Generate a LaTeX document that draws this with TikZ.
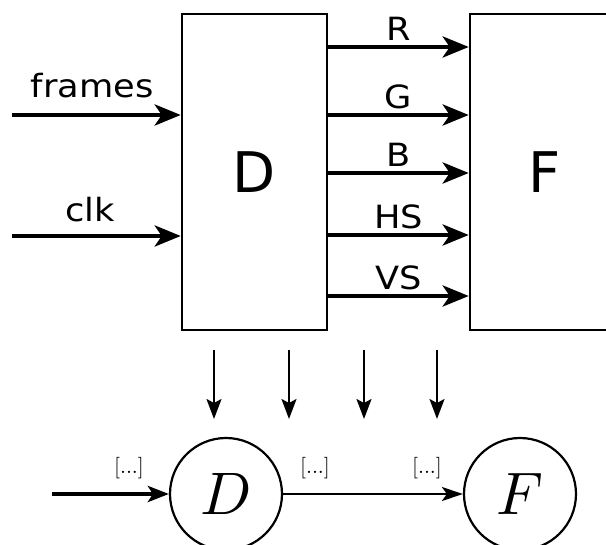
\documentclass[tikz,border=0pt]{standalone}
\usepackage{fontspec}
\newfontfamily\lblfont[FakeStretch=1.1]{DejaVu Sans}
\newfontfamily\blkfont{DejaVu Sans}
\usetikzlibrary{arrows.meta}
\tikzset{
  block/.style={draw, line width=2.5pt, minimum width=145pt, minimum height=316pt, inner sep=0pt, font=\blkfont\fontsize{56}{60}\selectfont},
  sig/.style={line width=4.5pt, -{Stealth[length=26pt,width=21pt,inset=7pt]}},
  sigtxt/.style={font=\lblfont\fontsize{32}{34}\selectfont, inner sep=0pt},
  down/.style={line width=2.2pt, -{Stealth[length=20pt,width=15pt,inset=4pt]}},
  st/.style={draw, circle, line width=2.2pt, minimum size=112pt, inner sep=0pt},
  dots/.style={inner sep=0pt},
}
\begin{document}
\begin{tikzpicture}[x=1pt,y=-1pt]
\useasboundingbox (0,0) rectangle (606,545);
\clip (0,0) rectangle (606,545);
% top blocks
\node[block] (D) at (254.5,172) {D};
\node[block, minimum width=150pt] (F) at (545,172) {F};
% inputs
\coordinate (fin) at (12,115);
\coordinate (cin) at (12,236);
\draw[sig] (fin) -- (D.west |- fin);
\draw[sig] (cin) -- (D.west |- cin);
\node[sigtxt, anchor=base] (lframes) at (92,98) {frames};
\node[sigtxt, anchor=base] (lclk) at (90,222) {clk};
% outputs
\foreach \y/\t in {47/R, 115/G, 173/B, 235/HS, 296/VS}{
  \coordinate (r\t) at (0,\y);
  \draw[sig] (D.east |- r\t) -- node[sigtxt, above, yshift=4pt] (l\t) {\t} (F.west |- r\t);
}
% down arrows
\foreach \x/\n in {214/a, 289/b, 364/c, 437/d}{
  \coordinate (top\n) at (\x,350);
  \coordinate (bot\n) at (\x,419);
  \draw[down] (top\n) -- (bot\n);
}
% state diagram
\node[st] (cD) at (226,494) {\scalebox{6}{$D$}};
\node[st] (cF) at (520,494) {\scalebox{6}{$F$}};
\coordinate (sin) at (52,494);
\draw[line width=4pt, -{Stealth[length=21pt,width=16pt,inset=5pt]}] (sin) -- (cD.west);
\draw[line width=2.2pt, -{Stealth[length=21pt,width=14pt,inset=5pt]}] (cD.east) -- (cF.west);
\node[dots] (d1) at (129,468) {\scalebox{2.15}{[...]}};
\node[dots] (d2) at (315,468) {\scalebox{2.15}{[...]}};
\node[dots] (d3) at (427,468) {\scalebox{2.15}{[...]}};
\end{tikzpicture}
\end{document}
